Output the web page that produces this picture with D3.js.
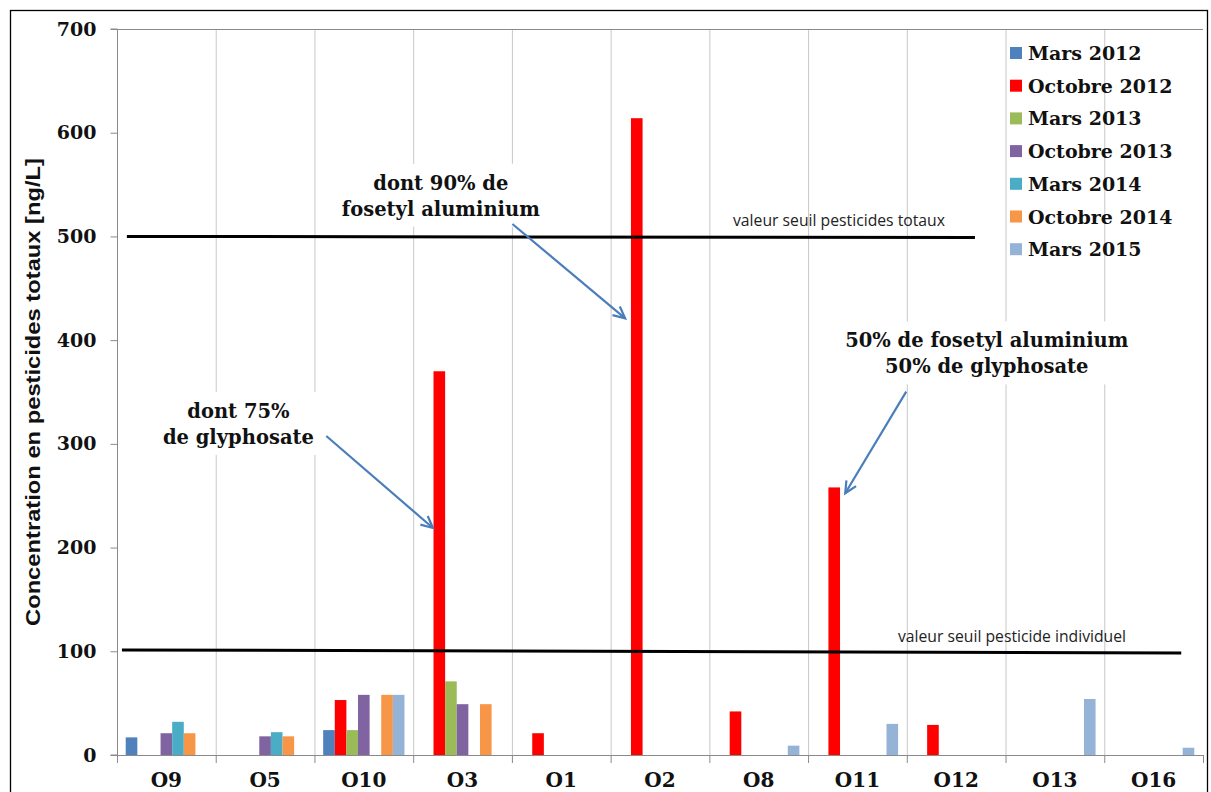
<!DOCTYPE html>
<html>
<head>
<meta charset="utf-8">
<script src="https://cdn.jsdelivr.net/npm/d3@7"></script>
<style>
  html, body { margin: 0; padding: 0; background: #fff; }
  svg { display: block; }
</style>
</head>
<body>
<svg id="chart" width="1211" height="792"></svg>
<script>
// Sampling sites and campaigns
const categories = ["O9", "O5", "O10", "O3", "O1", "O2", "O8", "O11", "O12", "O13", "O16"];
const seriesNames = ["Mars 2012", "Octobre 2012", "Mars 2013", "Octobre 2013", "Mars 2014", "Octobre 2014", "Mars 2015"];
const seriesColors = ["#4F81BD", "#FF0000", "#9BBB59", "#8064A2", "#4BACC6", "#F79646", "#95B3D7"];

// Total pesticide concentration [ng/L] per site, one array per campaign (null = no value)
const mars2012    = [17, null, 24, null, null, null, null, null, null, null, null];
const octobre2012 = [null, null, 53, 370, 21, 614, 42, 258, 29, null, null];
const mars2013    = [null, null, 24, 71, null, null, null, null, null, null, null];
const octobre2013 = [21, 18, 58, 49, null, null, null, null, null, null, null];
const mars2014    = [32, 22, null, null, null, null, null, null, null, null, null];
const octobre2014 = [21, 18, 58, 49, null, null, null, null, null, null, null];
const mars2015    = [null, null, 58, null, null, null, 9, 30, null, 54, 7];
const seriesValues = [mars2012, octobre2012, mars2013, octobre2013, mars2014, octobre2014, mars2015];

const yTicks = [0, 100, 200, 300, 400, 500, 600, 700];

// Threshold lines: value at start/end and extent in site units
const thresholdLabels = ["valeur seuil pesticides totaux", "valeur seuil pesticide individuel"];
const thresholdStart = [500, 101.3];
const thresholdEnd = [499, 98.4];
const thresholdFrom = [0.1, 0.05];
const thresholdTo = [8.69, 10.78];

// Callouts: text lines, arrow tail and head (site units, ng/L)
const noteLines = [["dont 75%", "de glyphosate"], ["dont 90% de", "fosetyl aluminium"], ["50% de fosetyl aluminium", "50% de glyphosate"]];
const noteAnchor = [[1.23, 325], [3.28, 545], [8.81, 393]];
const arrowTail = [[2.12, 307.6], [4.005, 512], [7.994, 350.3]];
const arrowHead = [[3.20, 218.9], [5.147, 421], [7.376, 252.4]];

const svg = d3.select("#chart");
const plot = { left: 117, right: 1203, top: 29, bottom: 755 };

const serif = "'DejaVu Serif', serif";

// outer frame
svg.append("rect")
  .attr("x", 10.5).attr("y", 10.5)
  .attr("width", 1197).attr("height", 800)
  .attr("fill", "#fff").attr("stroke", "#000").attr("stroke-width", 1.3);

const x = d3.scaleBand().domain(categories).range([plot.left, plot.right]).paddingInner(0).paddingOuter(0);
const xSeries = d3.scaleBand().domain(seriesNames).range([0, x.bandwidth()]).paddingInner(0).paddingOuter(0.75);
const xPos = d3.scaleLinear().domain([0, categories.length]).range([plot.left, plot.right]);
const y = d3.scaleLinear().domain([0, 700]).range([plot.bottom, plot.top]);

// vertical gridlines at site boundaries
const boundaries = d3.range(0, categories.length + 1);
svg.append("g").selectAll("line").data(boundaries.slice(1, -1)).join("line")
  .attr("x1", d => xPos(d) + 0.5).attr("x2", d => xPos(d) + 0.5)
  .attr("y1", plot.top).attr("y2", plot.bottom)
  .attr("stroke", "#c8c8c8").attr("stroke-width", 1);

// plot border top
svg.append("line").attr("x1", plot.left).attr("x2", plot.right)
  .attr("y1", plot.top + 0.5).attr("y2", plot.top + 0.5)
  .attr("stroke", "#8a8a8a").attr("stroke-width", 1);

// bars
const barG = svg.append("g");
seriesValues.forEach((vals, si) => {
  barG.append("g").selectAll("rect")
    .data(vals.map((v, i) => ({ v, cat: categories[i] })).filter(d => d.v != null))
    .join("rect")
    .attr("x", d => x(d.cat) + xSeries(seriesNames[si]))
    .attr("width", xSeries.bandwidth())
    .attr("y", d => y(d.v))
    .attr("height", d => y(0) - y(d.v))
    .attr("fill", seriesColors[si]);
});

// y axis
const yAxis = svg.append("g").attr("transform", `translate(${plot.left + 0.5},0)`)
  .call(d3.axisLeft(y).tickValues(yTicks).tickSize(7).tickPadding(14).tickFormat(d3.format("d")));
yAxis.select(".domain").attr("stroke", "#8a8a8a").attr("d", `M-7,${y(700)}H0V${y(0)}H-7`);
yAxis.selectAll(".tick line").attr("stroke", "#8a8a8a");
yAxis.selectAll(".tick text")
  .attr("font-family", serif).attr("font-weight", "bold").attr("font-size", 19).attr("fill", "#111");

// x axis
svg.append("line").attr("x1", plot.left).attr("x2", plot.right)
  .attr("y1", plot.bottom + 0.5).attr("y2", plot.bottom + 0.5)
  .attr("stroke", "#8a8a8a");
svg.append("g").selectAll("line").data(boundaries).join("line")
  .attr("x1", d => xPos(d) + 0.5).attr("x2", d => xPos(d) + 0.5)
  .attr("y1", plot.bottom).attr("y2", plot.bottom + 8)
  .attr("stroke", "#8a8a8a");
svg.append("g").selectAll("text").data(categories).join("text")
  .attr("x", d => x(d) + x.bandwidth() / 2)
  .attr("y", 787)
  .attr("text-anchor", "middle")
  .attr("font-family", serif).attr("font-weight", "bold").attr("font-size", 20)
  .attr("fill", "#111")
  .text(d => d);

// y axis title
svg.append("text")
  .attr("transform", `translate(40,392) rotate(-90)`)
  .attr("text-anchor", "middle")
  .attr("font-family", "'Liberation Sans Narrow', 'Liberation Sans', sans-serif")
  .attr("font-weight", "bold").attr("font-size", 21)
  .attr("textLength", 468).attr("lengthAdjust", "spacingAndGlyphs")
  .attr("fill", "#111")
  .text("Concentration en pesticides totaux [ng/L]");

// threshold lines
const thrG = svg.append("g");
thresholdLabels.forEach((lab, i) => {
  thrG.append("line")
    .attr("x1", xPos(thresholdFrom[i])).attr("x2", xPos(thresholdTo[i]))
    .attr("y1", y(thresholdStart[i])).attr("y2", y(thresholdEnd[i]))
    .attr("stroke", "#000").attr("stroke-width", 3);
});
thrG.append("text").attr("x", 839).attr("y", y(thresholdStart[0]) - 10)
  .attr("text-anchor", "middle").attr("font-family", "'Open Sans', sans-serif")
  .attr("font-size", 15.5).attr("textLength", 212).attr("lengthAdjust", "spacingAndGlyphs")
  .attr("fill", "#222").text(thresholdLabels[0]);
thrG.append("text").attr("x", 1012).attr("y", y(thresholdStart[1]) - 8)
  .attr("text-anchor", "middle").attr("font-family", "'Open Sans', sans-serif")
  .attr("font-size", 15.5).attr("textLength", 228).attr("lengthAdjust", "spacingAndGlyphs")
  .attr("fill", "#222").text(thresholdLabels[1]);

// callouts
const noteG = svg.append("g");
noteLines.forEach((lines, i) => {
  const g = noteG.append("g");
  const t = g.append("text")
    .attr("text-anchor", "middle")
    .attr("font-family", serif).attr("font-weight", "bold").attr("font-size", 19.5)
    .attr("fill", "#111");
  lines.forEach((ln, j) => {
    t.append("tspan").attr("x", xPos(noteAnchor[i][0])).attr("y", y(noteAnchor[i][1]) + j * 26).text(ln);
  });
  const bb = t.node().getBBox();
  g.insert("rect", "text")
    .attr("x", bb.x - 6).attr("y", bb.y - 8)
    .attr("width", bb.width + 12).attr("height", bb.height + 14)
    .attr("fill", "#fff");
});

// arrows
const arrowColor = "#4A7EBB";
arrowTail.forEach((tail, i) => {
  const x1 = xPos(tail[0]), y1 = y(tail[1]);
  const x2 = xPos(arrowHead[i][0]), y2 = y(arrowHead[i][1]);
  const ang = Math.atan2(y2 - y1, x2 - x1);
  const L = 13, a = 0.45;
  noteG.append("line").attr("x1", x1).attr("y1", y1).attr("x2", x2).attr("y2", y2)
    .attr("stroke", arrowColor).attr("stroke-width", 2.2);
  noteG.append("path")
    .attr("d", `M${x2 - L * Math.cos(ang - a)},${y2 - L * Math.sin(ang - a)}L${x2},${y2}L${x2 - L * Math.cos(ang + a)},${y2 - L * Math.sin(ang + a)}`)
    .attr("fill", "none").attr("stroke", arrowColor).attr("stroke-width", 2.2)
    .attr("stroke-linejoin", "miter");
});

// legend
const legend = svg.append("g").attr("transform", "translate(1010,53)");
seriesNames.forEach((name, i) => {
  const row = legend.append("g").attr("transform", `translate(0,${i * 32.7})`);
  row.append("rect").attr("x", 0).attr("y", -6).attr("width", 12).attr("height", 12).attr("fill", seriesColors[i]);
  row.append("text").attr("x", 18).attr("y", 7)
    .attr("font-family", serif).attr("font-weight", "bold").attr("font-size", 19)
    .attr("fill", "#111").text(name);
});
</script>
</body>
</html>
